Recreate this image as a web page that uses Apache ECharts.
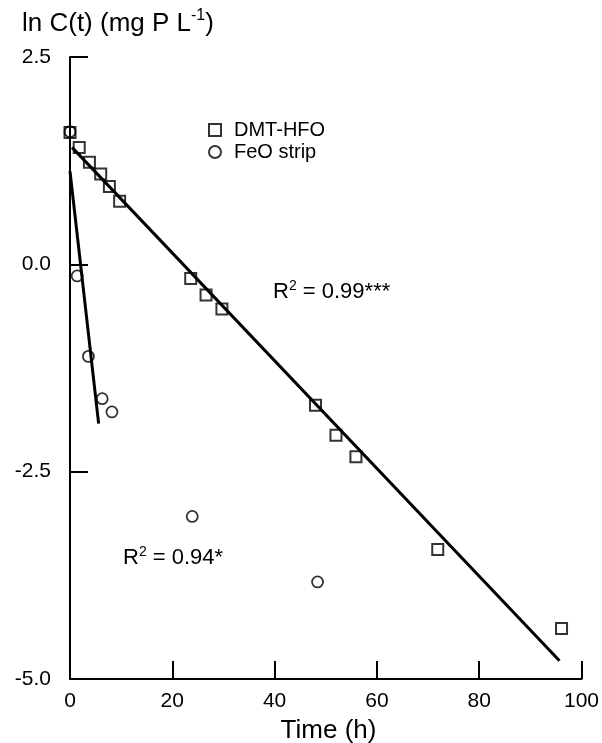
<!DOCTYPE html>
<html>
<head>
<meta charset="utf-8">
<script src="https://cdn.jsdelivr.net/npm/echarts@6/dist/echarts.min.js"></script>
<style>
  html, body { margin: 0; padding: 0; background: #fff; }
  #chart { width: 602px; height: 743px; }
</style>
</head>
<body>
<div id="chart"></div>
<script>
// Phosphate decay: ln C(t) over time for two materials, with linear fits
const dmtTime = [0, 1.8, 3.8, 6.0, 7.7, 9.7, 23.6, 26.6, 29.7, 48.0, 52.0, 55.9, 71.9, 96.1];
const dmtLnC  = [1.59, 1.41, 1.23, 1.09, 0.94, 0.76, -0.17, -0.37, -0.54, -1.70, -2.06, -2.32, -3.44, -4.39];

const feoTime = [0, 1.4, 3.6, 6.3, 8.2, 23.9, 48.4];
const feoLnC  = [1.60, -0.14, -1.11, -1.62, -1.78, -3.04, -3.83];

// Regression line end points
const dmtFitTime = [0.4, 95.7];
const dmtFitLnC  = [1.41, -4.78];
const feoFitTime = [0, 5.6];
const feoFitLnC  = [1.12, -1.92];

const xTicks = [0, 20, 40, 60, 80, 100];
const yTicks = [-5.0, -2.5, 0.0, 2.5];

const seriesNames = ['DMT-HFO', 'FeO strip'];
const dmtR2Label = '0.99***';
const feoR2Label = '0.94*';

const FONT = 'Liberation Sans, Arial, Helvetica, sans-serif';

const zip = (xs, ys) => xs.map((x, i) => [x, ys[i]]);

const chart = echarts.init(document.getElementById('chart'), null, { renderer: 'canvas' });

const axisCommon = {
  axisLine: { show: true, onZero: false, lineStyle: { color: '#000', width: 2 } },
  axisTick: { show: true, inside: true, length: 18, lineStyle: { color: '#000', width: 2 } },
  splitLine: { show: false },
  axisLabel: { color: '#000', fontFamily: FONT, fontSize: 21 }
};

const r2Rich = {
  n: { fontFamily: FONT, fontSize: 22, color: '#000', lineHeight: 26 },
  s: { fontFamily: FONT, fontSize: 14, color: '#000', lineHeight: 14, verticalAlign: 'top' }
};

const GRID = { left: 70, right: 15, top: 57, bottom: 64 };
const plotCenterX = GRID.left + (602 - GRID.left - GRID.right) / 2;

chart.setOption({
  animation: false,
  backgroundColor: '#fff',
  grid: Object.assign({ containLabel: false }, GRID),
  legend: {
    data: seriesNames,
    orient: 'vertical',
    left: 203,
    top: 115,
    itemWidth: 12,
    itemHeight: 12,
    itemGap: 2,
    textStyle: { fontFamily: FONT, fontSize: 20, color: '#000', padding: [0, 0, 0, 8] }
  },
  xAxis: Object.assign({}, axisCommon, {
    type: 'value',
    min: xTicks[0],
    max: xTicks[xTicks.length - 1],
    interval: 20,
    axisLabel: Object.assign({}, axisCommon.axisLabel, { margin: 12 })
  }),
  yAxis: Object.assign({}, axisCommon, {
    type: 'value',
    min: yTicks[0],
    max: yTicks[yTicks.length - 1],
    interval: 2.5,
    axisLabel: Object.assign({}, axisCommon.axisLabel, {
      margin: 19,
      formatter: v => v.toFixed(1)
    })
  }),
  graphic: [
    {
      type: 'text', left: 22, top: 8,
      style: {
        text: '{n|ln C(t) (mg P L}{s|-1}{n|)}',
        rich: {
          n: { fontFamily: FONT, fontSize: 26, color: '#000', lineHeight: 32 },
          s: { fontFamily: FONT, fontSize: 16, color: '#000', lineHeight: 18, verticalAlign: 'top' }
        }
      }
    },
    {
      type: 'text', x: plotCenterX, y: 731,
      style: {
        text: 'Time (h)', fontFamily: FONT, fontSize: 26, fill: '#000',
        align: 'center', verticalAlign: 'middle'
      }
    },
    {
      type: 'text', left: 273, top: 279,
      style: { text: '{n|R}{s|2}{n| = ' + dmtR2Label + '}', rich: r2Rich }
    },
    {
      type: 'text', left: 123, top: 545,
      style: { text: '{n|R}{s|2}{n| = ' + feoR2Label + '}', rich: r2Rich }
    }
  ],
  series: [
    {
      name: 'DMT-HFO fit', type: 'line', data: zip(dmtFitTime, dmtFitLnC),
      showSymbol: false, symbol: 'none', silent: true,
      lineStyle: { color: '#000', width: 3 }, z: 2
    },
    {
      name: 'FeO strip fit', type: 'line', data: zip(feoFitTime, feoFitLnC),
      showSymbol: false, symbol: 'none', silent: true,
      lineStyle: { color: '#000', width: 3 }, z: 2
    },
    {
      name: seriesNames[0], type: 'scatter', data: zip(dmtTime, dmtLnC),
      symbol: 'rect', symbolSize: 11,
      itemStyle: { color: 'rgba(0,0,0,0)', borderColor: '#000', borderWidth: 2 }, z: 3
    },
    {
      name: seriesNames[1], type: 'scatter', data: zip(feoTime, feoLnC),
      symbol: 'circle', symbolSize: 11,
      itemStyle: { color: 'rgba(0,0,0,0)', borderColor: '#000', borderWidth: 1.8 }, z: 3
    }
  ]
});
</script>
</body>
</html>
